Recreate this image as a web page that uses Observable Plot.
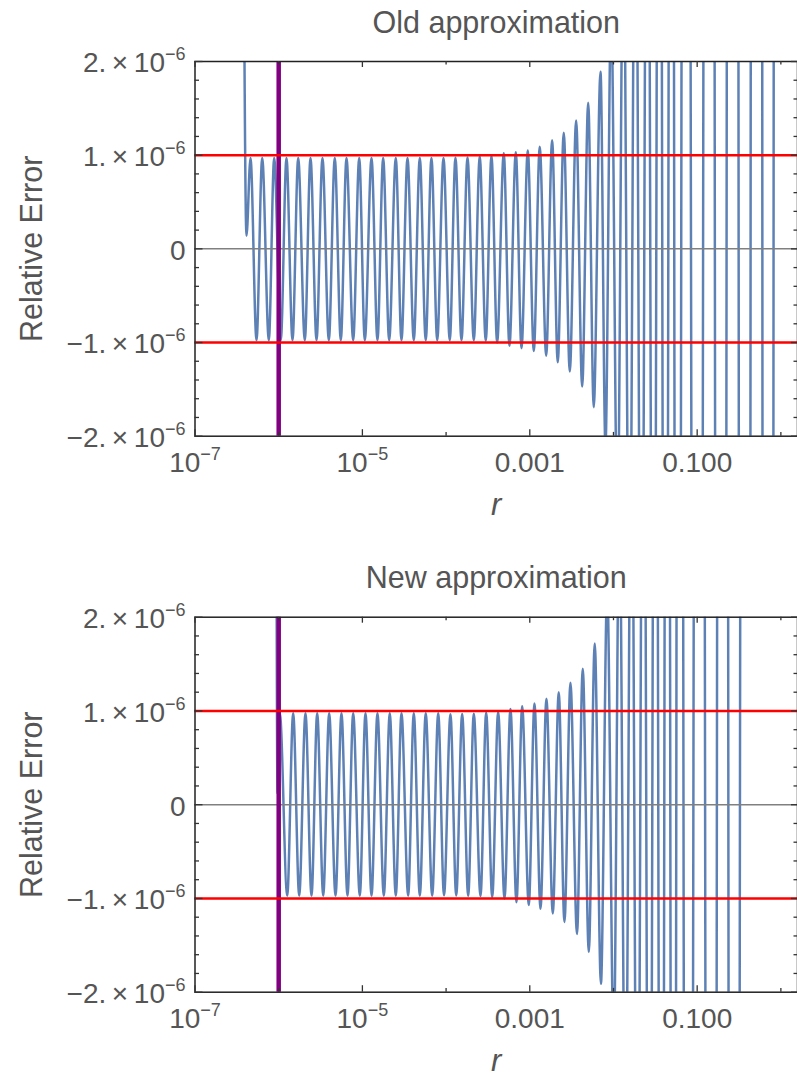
<!DOCTYPE html>
<html><head><meta charset="utf-8">
<script src="https://cdn.jsdelivr.net/npm/d3@7"></script>
<script src="https://cdn.jsdelivr.net/npm/@observablehq/plot@0.6"></script>
<style>
html,body{margin:0;padding:0;background:#fff;overflow:hidden;width:797px;height:1077px}
svg{display:block}
</style>
</head><body><div id="chart"></div>
<script>
// Extrema of the relative-error curve (log10 r), values in units of 1e-6
const oldLogR = [-6.427,-6.385,-6.337,
  -6.265,-6.197,-6.118,-6.054,-5.975,-5.907,-5.835,-5.767,-5.688,-5.620,
  -5.548,-5.477,-5.401,-5.330,-5.258,-5.190,-5.110,-5.038,-4.971,-4.891,
  -4.820,-4.752,-4.680,-4.601,-4.533,-4.461,-4.386,-4.314,-4.243,-4.175,
  -4.106,-4.031,-3.956,
  -3.888,-3.816,-3.744,-3.669,-3.598,-3.526,-3.458,-3.390,-3.311,-3.243,
  -3.167,-3.099,-3.024,-2.952,-2.881,-2.804,-2.733,-2.666,-2.594,-2.522,
  -2.446,-2.374,-2.302,-2.236,-2.155,-2.096,-2.028,-1.952,-1.881,-1.809,
  -1.737,-1.666,-1.594,-1.522,-1.451,-1.379,-1.307,-1.236,-1.140,-0.997,
  -0.853,-0.716,-0.573,-0.429,-0.286,-0.149,-0.017];
const oldErr = [5,0.14,0.97,
  -0.975,0.97,-0.975,0.97,-0.975,0.97,-0.975,0.97,-0.975,0.97,
  -0.975,0.97,-0.975,0.97,-0.975,0.97,-0.975,0.97,-0.975,0.97,
  -0.975,0.97,-0.975,0.97,-0.975,0.97,-0.975,0.97,-0.975,0.97,
  -0.975,0.97,-0.975,
  0.972,-0.975,0.975,-0.977,0.985,-0.98,0.99,-1.0,1.02,-1.035,
  1.03,-1.06,1.05,-1.09,1.09,-1.14,1.16,-1.21,1.24,-1.31,
  1.37,-1.47,1.56,-1.69,1.89,-2.1,2.6,-3,3.6,-4.3,
  5,-6,7,-8.5,10,-12,14,-17,20,-25,
  30,-36,43,-50,60,-70,80];
const newLogR = [-6.032,-6.014,-5.987,
  -5.898,-5.827,-5.755,-5.680,-5.608,-5.540,-5.468,-5.397,-5.321,-5.250,
  -5.178,-5.110,-5.031,-4.963,-4.891,-4.820,-4.744,-4.673,-4.601,-4.533,
  -4.453,-4.386,-4.314,-4.243,-4.166,-4.094,-4.025,-3.948,-3.879,-3.808,
  -3.736,-3.669,-3.589,-3.521,-3.449,-3.378,-3.302,-3.231,-3.159,-3.091,
  -3.012,-2.944,-2.872,-2.801,-2.725,-2.654,-2.586,-2.514,-2.436,-2.367,
  -2.295,-2.224,-2.150,-2.075,-1.997,-1.929,-1.857,-1.785,-1.713,-1.642,
  -1.570,-1.498,-1.427,-1.355,-1.283,-1.212,-1.110,-0.973,-0.829,-0.692,
  -0.555,-0.411];
const newErr = [5,0.12,0.977,
  -0.97,0.975,-0.97,0.975,-0.97,0.975,-0.97,0.975,-0.97,0.975,
  -0.97,0.975,-0.97,0.975,-0.97,0.975,-0.97,0.975,-0.97,0.975,
  -0.97,0.975,-0.97,0.975,-0.97,0.975,-0.967,0.965,-0.968,0.968,
  -0.97,0.97,-0.975,0.98,-0.985,0.99,-1.0,1.02,-1.04,1.05,
  -1.07,1.08,-1.11,1.13,-1.16,1.2,-1.25,1.3,-1.38,1.45,
  -1.57,1.72,-1.91,2.3,-2.6,3.2,-3.8,4.5,-5.5,6.5,
  -8,9.5,-11.5,13.5,-16,19,-22,26,-31,37,
  -44,52];

const limitLevels = [-1, 1];
const zeroLevel = [0];
const cutoffR = [1e-6];

const xMajorTicks = [1e-7, 1e-5, 1e-3, 1e-1];
const xMinorTicks = [1e-6, 1e-4, 1e-2, 1];
const xTickLabels = ["10^\u22127", "10^\u22125", "0.001", "0.100"];
const yMajorTicks = [-2, -1, 0, 1, 2];
const yMinorTicks = [-1.8,-1.6,-1.4,-1.2,-0.8,-0.6,-0.4,-0.2,0.2,0.4,0.6,0.8,1.2,1.4,1.6,1.8];
const yTickLabels = ["\u22122.\u2009\u00d7\u200910^\u22126", "\u22121.\u2009\u00d7\u200910^\u22126", "0",
                     "1.\u2009\u00d7\u200910^\u22126", "2.\u2009\u00d7\u200910^\u22126"];
const titles = ["Old approximation", "New approximation"];
const xLabel = "r";
const yLabel = "Relative Error";

const xLabelMap = new Map(xMajorTicks.map((d, i) => [d, xTickLabels[i]]));
const yLabelMap = new Map(yMajorTicks.map((d, i) => [d, yTickLabels[i]]));

const FONT = "'Liberation Sans', Arial, Helvetica, sans-serif";
const TEXT = "#555";
const W = 797, ML = 194.5, MR = 0;
const FW = W - ML - MR;

function superscripts(svg) {
  svg.querySelectorAll("text").forEach(t => {
    if (t.children.length) return;
    const s = t.textContent;
    const k = s.indexOf("^");
    if (k < 0) return;
    t.textContent = s.slice(0, k);
    const ts = document.createElementNS("http://www.w3.org/2000/svg", "tspan");
    ts.setAttribute("dy", "-12");
    ts.setAttribute("font-size", "18");
    ts.textContent = s.slice(k + 1);
    t.appendChild(ts);
  });
}

function panel(title, logR, err, height, mt, mb) {
  const FH = height - mt - mb;
  const data = logR.map((l, i) => ({r: Math.pow(10, l), e: err[i]}));
  const tickStroke = {stroke: "#333", strokeWidth: 1.3};
  const svg = Plot.plot({
    width: W, height,
    marginLeft: ML, marginRight: MR, marginTop: mt, marginBottom: mb,
    style: {fontFamily: FONT, color: TEXT, background: "#fff", overflow: "visible"},
    x: {type: "log", domain: [1e-7, 1.58]},
    y: {domain: [-2, 2]},
    marks: [
      Plot.line(data, {x: "r", y: "e", curve: "monotone-x", stroke: "#5E81B5", strokeWidth: 2.5, clip: true}),
      Plot.ruleY(zeroLevel, {stroke: "#808080", strokeWidth: 1.5}),
      Plot.ruleX(cutoffR, {stroke: "#800080", strokeWidth: 4.5}),
      Plot.ruleY(limitLevels, {stroke: "#ff0000", strokeWidth: 2.5}),
      Plot.frame({stroke: "#222", strokeWidth: 1.5}),
      Plot.tickY(yMajorTicks, {insetRight: FW - 8, ...tickStroke}),
      Plot.tickY(yMinorTicks, {insetRight: FW - 4.5, ...tickStroke}),
      Plot.tickY(yMajorTicks, {insetLeft: FW - 6, ...tickStroke}),
      Plot.tickY(yMinorTicks, {insetLeft: FW - 3.5, ...tickStroke}),
      Plot.tickX(xMajorTicks, {insetTop: FH - 6.5, ...tickStroke}),
      Plot.tickX(xMinorTicks, {insetTop: FH - 3.8, ...tickStroke}),
      Plot.tickX(xMajorTicks, {insetBottom: FH - 6, ...tickStroke}),
      Plot.tickX(xMinorTicks, {insetBottom: FH - 3.5, ...tickStroke}),
      Plot.axisY({ticks: yMajorTicks, tickFormat: d => yLabelMap.get(d), tickSize: 0, tickPadding: 9.5,
                  fontSize: 28, dy: 2, label: null}),
      Plot.axisX({ticks: xMajorTicks, tickFormat: d => xLabelMap.get(d), tickSize: 0, tickPadding: 15.5,
                  fontSize: 28, label: null}),
      Plot.text([title], {frameAnchor: "top", lineAnchor: "middle", dy: -38.5, fontSize: 30.5, fill: TEXT}),
      Plot.text([xLabel], {frameAnchor: "bottom", lineAnchor: "middle", dy: 69, fontSize: 31, fontStyle: "italic", fill: TEXT}),
      Plot.text([yLabel], {frameAnchor: "left", textAnchor: "middle", lineAnchor: "middle", rotate: -90, dx: -163, fontSize: 30.5, fill: TEXT})
    ]
  });
  superscripts(svg);
  return svg;
}

const root = document.getElementById("chart");
root.appendChild(panel(titles[0], oldLogR, oldErr, 540, 61, 104.3));
root.appendChild(panel(titles[1], newLogR, newErr, 537, 76.7, 85.3));
</script>
</body></html>
